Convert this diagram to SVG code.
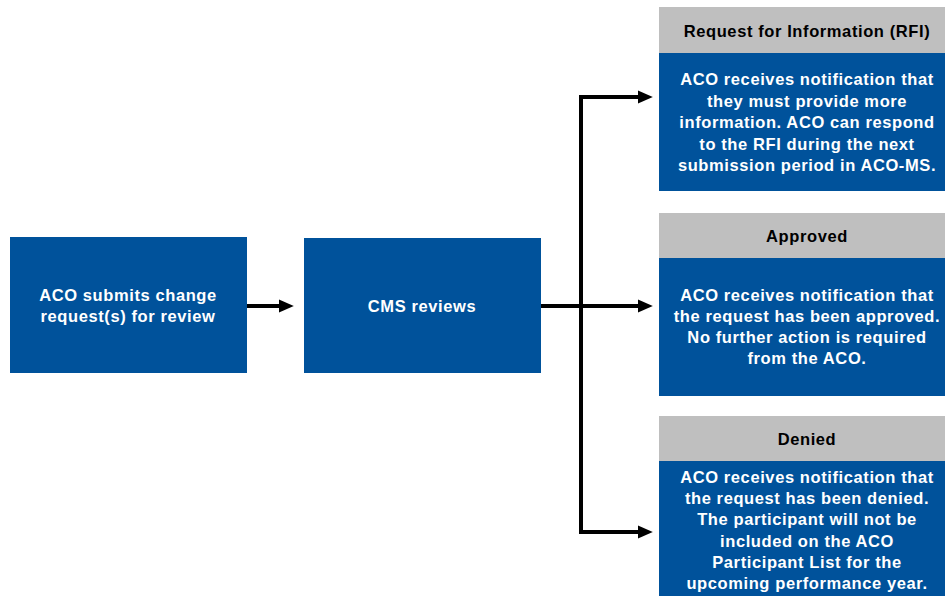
<svg xmlns="http://www.w3.org/2000/svg" width="945" height="596" viewBox="0 0 945 596">
<defs>
<style>
.blue{fill:#00529B;}
.gray{fill:#BFBFBF;}
.wt{font-family:"Liberation Sans",Arial,sans-serif;font-weight:bold;font-size:16.5px;letter-spacing:0.6px;fill:#FFFFFF;text-anchor:middle;}
.ht{font-family:"Liberation Sans",Arial,sans-serif;font-weight:bold;font-size:16.5px;letter-spacing:0.6px;fill:#000000;text-anchor:middle;}
.ln{stroke:#000;stroke-width:4;fill:none;}
</style>
<marker id="ah" markerWidth="4" markerHeight="4" refX="0" refY="2" orient="auto" markerUnits="strokeWidth">
<path d="M0,0.4 L3.7,2 L0,3.6 Z" fill="#000"/>
</marker>
</defs>
<rect width="945" height="596" fill="#FFFFFF"/>
<g id="connectors">
<path class="ln" d="M247,306 H279" marker-end="url(#ah)"/>
<path class="ln" d="M541,306 H638" marker-end="url(#ah)"/>
<path class="ln" d="M581,97 V532"/>
<path class="ln" d="M579,97 H638" marker-end="url(#ah)"/>
<path class="ln" d="M579,532 H638" marker-end="url(#ah)"/>
</g>
<g id="submit">
<rect class="blue" x="10" y="237" width="237" height="136"/>
<text class="wt" x="128" y="301">ACO submits change</text>
<text class="wt" x="128" y="322">request(s) for review</text>
</g>
<g id="review">
<rect class="blue" x="304" y="238" width="237" height="135"/>
<text class="wt" x="422" y="312">CMS reviews</text>
</g>
<g id="rfi">
<rect class="gray" x="659" y="7" width="294" height="46"/>
<rect class="blue" x="659" y="53" width="294" height="138"/>
<text class="ht" x="807" y="37">Request for Information (RFI)</text>
<text class="wt" x="807" y="85">ACO receives notification that</text>
<text class="wt" x="807" y="107">they must provide more</text>
<text class="wt" x="807" y="128">information. ACO can respond</text>
<text class="wt" x="807" y="150">to the RFI during the next</text>
<text class="wt" x="807" y="171">submission period in ACO-MS.</text>
</g>
<g id="approved">
<rect class="gray" x="659" y="213" width="294" height="45"/>
<rect class="blue" x="659" y="258" width="294" height="138"/>
<text class="ht" x="807" y="242">Approved</text>
<text class="wt" x="807" y="301">ACO receives notification that</text>
<text class="wt" x="807" y="322">the request has been approved.</text>
<text class="wt" x="807" y="343">No further action is required</text>
<text class="wt" x="807" y="364">from the ACO.</text>
</g>
<g id="denied">
<rect class="gray" x="659" y="416" width="294" height="45"/>
<rect class="blue" x="659" y="461" width="294" height="140"/>
<text class="ht" x="807" y="445">Denied</text>
<text class="wt" x="807" y="483">ACO receives notification that</text>
<text class="wt" x="807" y="504">the request has been denied.</text>
<text class="wt" x="807" y="525">The participant will not be</text>
<text class="wt" x="807" y="547">included on the ACO</text>
<text class="wt" x="807" y="568">Participant List for the</text>
<text class="wt" x="807" y="589">upcoming performance year.</text>
</g>
</svg>
